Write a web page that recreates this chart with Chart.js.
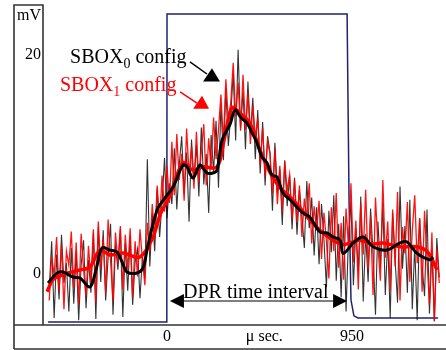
<!DOCTYPE html>
<html>
<head>
<meta charset="utf-8">
<script src="https://cdn.jsdelivr.net/npm/chart.js@4.4.1/dist/chart.umd.min.js"></script>
<style>
html, body { margin: 0; padding: 0; background: #fff; }
#wrap { width: 446px; height: 350px; }
</style>
</head>
<body>
<div id="wrap"><canvas id="grafico" width="446" height="350"></canvas></div>
<script>
// --- muestreo del osciloscopio (µs) ---
const sampleStart = -605;
const sampleStep = 12.6;

// trazas crudas (mV)
const sbox0Raw = [
  -1.5, 2.8, -4.2, 1.6, -2.5, 3.4, -1.0, 0.8, -3.6, 2.2,
  -2.9, 1.9, -4.4, 0.6, 2.9, -3.3, 1.1, -1.9, 3.6, -4.3,
  4.1, -0.9, 3.8, -2.6, 1.3, 4.4, -3.9, 2.5, 0.2, 3.9,
  -4.1, 2.6, -1.7, 3.3, -3.0, 0.9, 2.1, -2.4, 1.5, -0.6,
  10.3, 0.5, 5.3, 1.9, 7.6, 3.2, 6.4, 10.4, 4.9, 8.1,
  6.2, 11.3, 5.7, 9.8, 12.4, 7.1, 10.9, 4.6, 12.1, 8.3,
  11.6, 6.9, 13.2, 8.0, 10.8, 5.4, 12.5, 9.1, 13.8, 7.7,
  15.4, 10.2, 16.8, 11.5, 14.3, 18.2, 12.0, 20.3, 13.1, 16.5,
  11.2, 17.4, 12.6, 15.9, 10.3, 14.8, 9.0, 13.7, 7.9, 12.4,
  10.9, 5.6, 11.8, 7.2, 9.4, 4.3, 10.2, 6.0, 8.8, 3.9,
  8.6, 3.4, 7.5, 5.1, 2.2, 8.3, 4.0, 6.8, 1.5, 5.9,
  0.7, 6.2, 2.9, -1.4, 5.6, 1.8, 7.0, -0.8, 4.4, -2.3,
  5.1, -3.6, 3.2, 6.4, -1.2, 4.0, 0.1, 6.9, -2.7, 3.5,
  -0.9, 5.8, 1.7, -3.9, 4.6, 0.4, 6.3, -2.1, 3.0, -4.2,
  5.4, 1.1, -2.8, 7.8, 0.3, 4.2, -1.9, 6.6, -3.4, 2.4,
  -4.4, 4.9, 0.6, -2.2, 5.7, -3.8, 2.0, -4.5, 3.1, -0.5
];
const sbox1Raw = [
  -2.6, 1.4, -0.3, 3.2, -1.8, 2.5, -3.4, 1.9, 0.6, 3.7,
  -1.5, 2.7, -3.0, 3.5, 0.2, -2.2, 2.4, -0.9, 3.9, -2.8,
  4.6, 0.3, 3.1, -1.9, 4.8, 1.0, -2.7, 3.6, 0.8, 4.2,
  -1.6, 3.4, 0.2, 4.0, -2.3, 2.8, -0.4, 3.9, 1.1, -1.2,
  4.5, 1.8, 6.2, 3.0, 7.9, 4.6, 8.8, 5.5, 9.7, 6.3,
  11.9, 7.0, 12.6, 8.4, 10.8, 6.5, 13.1, 8.9, 11.4, 7.6,
  12.8, 8.2, 11.0, 13.5, 7.9, 12.2, 9.5, 14.1, 10.3, 13.0,
  16.2, 11.8, 17.6, 13.9, 15.5, 19.1, 14.2, 17.3, 12.9, 18.0,
  13.0, 16.4, 11.7, 15.2, 12.3, 14.0, 9.8, 13.2, 8.7, 11.9,
  10.8, 7.1, 11.3, 6.2, 9.7, 5.5, 10.1, 7.4, 8.9, 4.8,
  8.4, 4.6, 7.9, 3.2, 6.7, 4.9, 8.1, 2.6, 6.0, 3.8,
  6.5, 1.2, 5.4, 2.8, -0.6, 5.9, 1.9, 7.2, 0.4, 4.5,
  -0.7, 5.8, 2.3, 8.1, 0.9, 4.7, -1.6, 6.3, 1.6, 7.5,
  0.2, 5.1, -2.1, 6.8, 2.4, -0.8, 8.4, 1.3, 4.6, -1.7,
  5.7, 0.5, 7.3, -2.6, 4.1, 1.7, 6.4, -0.9, 3.8, 7.0,
  0.8, 4.9, -1.8, 5.6, 1.2, -3.0, 3.6, -4.5, 2.1, -1.0
];

// promedios suavizados
const sbox0AvgT = [-611, -565, -534, -483, -447, -396, -365, -334, -293, -257, -231, -205, -154, -123, -103, -51, -10, 31, 82, 103, 133, 170, 205, 236, 257, 283, 324, 349, 380, 411, 437, 462, 488, 514, 539, 565, 596, 632, 668, 698, 734, 786, 822, 853, 889, 904, 940, 955, 1007, 1058, 1130, 1197, 1233, 1284, 1351, 1366];
const sbox0AvgV = [-1.0, -0.1, 0.0, -0.46, -0.55, -1.37, 0.18, 2.19, 2.0, 1.83, 0.91, 0.0, -0.09, 0.37, 2.0, 5.66, 6.76, 7.76, 9.77, 9.6, 8.58, 9.77, 9.04, 9.04, 9.3, 12.05, 13.5, 14.8, 14.1, 13.6, 12.7, 11.8, 10.5, 9.95, 8.86, 8.68, 7.2, 6.6, 5.9, 5.4, 5.0, 3.65, 3.56, 3.2, 2.9, 1.7, 2.3, 2.65, 3.2, 2.3, 2.0, 2.65, 2.74, 1.7, 1.1, 1.37];
const sbox1AvgT = [-616, -586, -550, -514, -447, -396, -344, -293, -226, -139, -72, -36, 15, 82, 133, 185, 257, 293, 334, 375, 426, 478, 529, 580, 632, 683, 734, 786, 853, 904, 940, 991, 1053, 1109, 1197, 1284, 1340, 1387];
const sbox1AvgV = [-1.8, -0.7, -0.37, -0.1, 0.18, 0.46, 2.0, 1.55, 1.74, 1.37, 3.2, 5.2, 7.0, 9.95, 9.3, 9.6, 9.6, 12.05, 15.0, 14.5, 13.6, 11.1, 9.1, 7.7, 6.85, 5.85, 4.75, 3.8, 2.9, 2.5, 2.65, 2.9, 2.56, 2.65, 2.3, 2.3, 1.8, 0.18];

// pulso DPR
const pulseT = [-611, -1, 0, 925, 935, 945, 960, 981, 1392];
const pulseV = [-4.57, -4.57, 23.56, 23.56, 6.6, -2.56, -4.0, -4.2, -4.2];

// ejes
const xTickValues = [0, 500, 950];
const xTickLabels = ['0', 'μ sec.', '950'];
const yTickValues = [0, 20, 23.6];
const yTickLabels = ['0', '20', 'mV'];

const serif = '"Liberation Serif", "Times New Roman", serif';

const toPts = (ts, vs) => vs.map((v, i) => ({ x: ts[i], y: v }));
const rawPts = vals => vals.map((v, i) => ({ x: sampleStart + i * sampleStep, y: v }));

// marco estilo figura
const marcoPlugin = {
  id: 'marco',
  afterDraw(chart) {
    const { ctx, chartArea } = chart;
    const yAx = chart.scales.y, xAx = chart.scales.x;
    const L0 = yAx.left, L = chartArea.left, T = chartArea.top, B = chartArea.bottom;
    const R = chart.width, fondo = xAx.bottom;
    ctx.save();
    ctx.strokeStyle = '#333';
    ctx.lineWidth = 1.6;
    ctx.beginPath();
    ctx.moveTo(L0, fondo); ctx.lineTo(L0, T); ctx.lineTo(L, T); ctx.lineTo(L, B);
    ctx.moveTo(L0, B); ctx.lineTo(R, B);
    ctx.moveTo(L0, fondo); ctx.lineTo(R, fondo);
    ctx.stroke();
    ctx.restore();
  }
};

// textos y flechas
const notasPlugin = {
  id: 'notas',
  afterDatasetsDraw(chart) {
    const { ctx } = chart;
    const X = v => chart.scales.x.getPixelForValue(v);
    const Y = v => chart.scales.y.getPixelForValue(v);
    ctx.save();

    function etiqueta(t, v, color, sub) {
      let x = X(t), y = Y(v);
      ctx.fillStyle = color;
      ctx.textBaseline = 'alphabetic';
      ctx.textAlign = 'left';
      ctx.font = '20px ' + serif;
      ctx.fillText('SBOX', x, y);
      x += ctx.measureText('SBOX').width;
      ctx.font = '14px ' + serif;
      ctx.fillText(sub, x, y + 5);
      x += ctx.measureText(sub).width;
      ctx.font = '20px ' + serif;
      ctx.fillText(' config', x, y);
    }
    function flecha(a, b, tri, color) {
      ctx.strokeStyle = color;
      ctx.fillStyle = color;
      ctx.lineWidth = 1.5;
      ctx.beginPath();
      ctx.moveTo(X(a[0]), Y(a[1]));
      ctx.lineTo(X(b[0]), Y(b[1]));
      ctx.stroke();
      ctx.beginPath();
      ctx.moveTo(X(tri[0][0]), Y(tri[0][1]));
      ctx.lineTo(X(tri[1][0]), Y(tri[1][1]));
      ctx.lineTo(X(tri[2][0]), Y(tri[2][1]));
      ctx.closePath();
      ctx.fill();
    }

    etiqueta(-498, 19.09, '#000', '0');
    etiqueta(-550, 16.53, '#ff0000', '1');
    flecha([118, 19.18], [205, 18.08], [[185, 17.4], [231, 18.6], [272, 17.4]], '#000');
    flecha([67, 16.44], [154, 15.43], [[134, 14.9], [180, 16.1], [216, 14.9]], '#ff0000');

    // intervalo DPR
    const ya = Y(-2.65), x1 = X(15), x2 = X(925);
    ctx.strokeStyle = '#000';
    ctx.fillStyle = '#000';
    ctx.lineWidth = 1.2;
    ctx.beginPath();
    ctx.moveTo(x1 + 10, ya); ctx.lineTo(x2 - 10, ya);
    ctx.stroke();
    ctx.beginPath();
    ctx.moveTo(x1, ya); ctx.lineTo(x1 + 14, ya - 7); ctx.lineTo(x1 + 14, ya + 7); ctx.closePath();
    ctx.moveTo(x2, ya); ctx.lineTo(x2 - 14, ya - 7); ctx.lineTo(x2 - 14, ya + 7); ctx.closePath();
    ctx.fill();
    ctx.font = '20px ' + serif;
    ctx.textAlign = 'left';
    ctx.textBaseline = 'alphabetic';
    ctx.fillText('DPR time interval', X(82), Y(-2.37));
    ctx.restore();
  }
};

new Chart(document.getElementById('grafico'), {
  type: 'line',
  data: {
    datasets: [
      { data: toPts(sbox0AvgT, sbox0AvgV), borderColor: '#000', borderWidth: 3, tension: 0.35 },
      { data: toPts(sbox1AvgT, sbox1AvgV), borderColor: '#ff0000', borderWidth: 3.5, tension: 0.35 },
      { data: rawPts(sbox1Raw), borderColor: 'rgba(255,0,0,0.92)', borderWidth: 1.3, tension: 0 },
      { data: rawPts(sbox0Raw), borderColor: 'rgba(0,0,0,0.8)', borderWidth: 1.1, tension: 0 },
      { data: toPts(pulseT, pulseV), borderColor: '#22226e', borderWidth: 1.5, tension: 0 }
    ]
  },
  options: {
    responsive: false,
    animation: false,
    elements: { point: { radius: 0 } },
    layout: { padding: { left: 14, top: 5, right: 0, bottom: 1 } },
    plugins: { legend: { display: false }, tooltip: { enabled: false } },
    scales: {
      x: {
        type: 'linear', min: -637, max: 1433,
        grid: { display: false, drawTicks: false }, border: { display: false },
        afterBuildTicks: s => { s.ticks = xTickValues.map(v => ({ value: v })); },
        afterFit: s => { s.height = 24; s.paddingLeft = 0; s.paddingRight = 0; },
        ticks: {
          autoSkip: false, maxRotation: 0, padding: 2, color: '#000',
          font: { family: serif, size: 16 },
          callback: v => xTickLabels[xTickValues.indexOf(v)]
        }
      },
      y: {
        type: 'linear', min: -4.84, max: 24.38,
        grid: { display: false, drawTicks: false }, border: { display: false },
        afterBuildTicks: s => { s.ticks = yTickValues.map(v => ({ value: v })); },
        afterFit: s => { s.width = 29; s.paddingTop = 0; s.paddingBottom = 0; },
        ticks: {
          autoSkip: false, padding: 2, labelOffset: 2, color: '#000',
          font: { family: serif, size: 16 },
          callback: v => yTickLabels[yTickValues.indexOf(v)]
        }
      }
    }
  },
  plugins: [marcoPlugin, notasPlugin]
});
</script>
</body>
</html>
